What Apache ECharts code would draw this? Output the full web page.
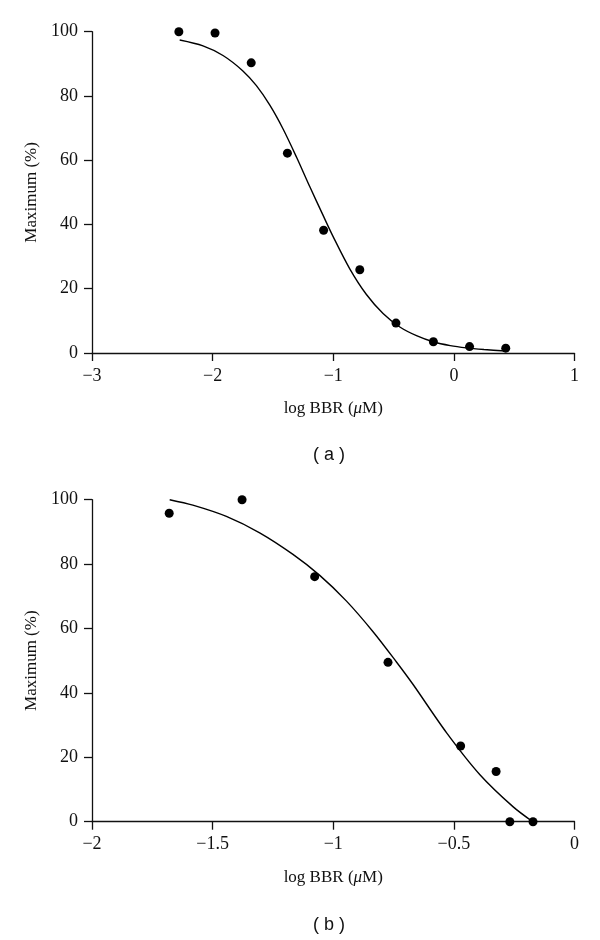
<!DOCTYPE html>
<html>
<head>
<meta charset="utf-8">
<script src="https://cdn.jsdelivr.net/npm/echarts@6/dist/echarts.min.js"></script>
<style>
html,body{margin:0;padding:0;background:#fff;}
#c{width:600px;height:940px;}
</style>
</head>
<body>
<div id="c"></div>
<script>
// Panel (a) data points
const aX = [-2.28, -1.98, -1.68, -1.38, -1.08, -0.78, -0.48, -0.17, 0.13, 0.43];
const aY = [100, 99.6, 90.3, 62.2, 38.2, 25.9, 9.3, 3.5, 2.0, 1.5];
// Panel (a) fitted curve
const aCurveX = [-2.273, -2.08, -1.914, -1.749, -1.637, -1.527, -1.417, -1.305, -1.195, -1.085, -1.002, -0.863, -0.725, -0.587, -0.448, -0.31, -0.172, -0.03, 0.105, 0.25, 0.43];
const aCurveY = [97.4, 95.6, 92.6, 87.8, 83.2, 77.2, 69.8, 61.0, 51.8, 42.9, 36.3, 26.2, 18.2, 12.3, 8.1, 5.4, 3.5, 2.3, 1.6, 1.1, 0.6];
// Panel (b) data points
const bX = [-1.68, -1.378, -1.077, -0.773, -0.472, -0.325, -0.268, -0.172];
const bY = [95.8, 100, 76.1, 49.5, 23.5, 15.6, 0, 0];
// Panel (b) fitted curve
const bCurveX = [-1.678, -1.582, -1.443, -1.305, -1.167, -1.056, -0.945, -0.835, -0.738, -0.669, -0.53, -0.392, -0.254, -0.173];
const bCurveY = [100, 98.3, 94.8, 89.7, 83.0, 76.5, 68.5, 59.0, 49.6, 42.6, 27.6, 14.6, 4.6, 0];
// Axis ticks
const aXTicks = {min: -3, max: 1, interval: 1};
const bXTicks = {min: -2, max: 0, interval: 0.5};
const yTicks = {min: 0, max: 100, interval: 20};
const panelLabels = ['( a )', '( b )'];
const yName = 'Maximum (%)';

const serif = 'Liberation Serif';
const black = '#111';
const minus = v => String(v).replace('-', '\u2212');

function xAxis(idx, t) {
  return {
    type: 'value', gridIndex: idx, min: t.min, max: t.max, interval: t.interval,
    name: 'log BBR ({i|\u03bc}M)', nameLocation: 'middle', nameGap: 47,
    nameTextStyle: {fontFamily: serif, fontSize: 17, color: black,
      rich: {i: {fontFamily: serif, fontStyle: 'italic', fontSize: 17, color: black}}},
    axisLine: {show: true, onZero: false, lineStyle: {color: black, width: 1.3}},
    axisTick: {show: true, inside: false, length: 8, lineStyle: {color: black, width: 1.3}},
    axisLabel: {fontFamily: serif, fontSize: 18, color: black, margin: 14, formatter: minus},
    splitLine: {show: false}
  };
}
function yAxis(idx) {
  return {
    type: 'value', gridIndex: idx, min: yTicks.min, max: yTicks.max, interval: yTicks.interval,
    name: yName, nameLocation: 'middle', nameGap: 50, nameRotate: 90,
    nameTextStyle: {fontFamily: serif, fontSize: 17, color: black},
    axisLine: {show: true, onZero: false, lineStyle: {color: black, width: 1.3}},
    axisTick: {show: true, inside: false, length: 8, lineStyle: {color: black, width: 1.3}},
    axisLabel: {fontFamily: serif, fontSize: 18, color: black, margin: 14},
    splitLine: {show: false}
  };
}
const zip = (xs, ys) => xs.map((x, i) => [x, ys[i]]);

const chart = echarts.init(document.getElementById('c'), null, {renderer: 'canvas'});
chart.setOption({
  animation: false,
  backgroundColor: '#fff',
  grid: [
    {left: 92, width: 482.5, top: 31.7, height: 321.3},
    {left: 92, width: 482.5, top: 499.7, height: 322}
  ],
  xAxis: [xAxis(0, aXTicks), xAxis(1, bXTicks)],
  yAxis: [yAxis(0), yAxis(1)],
  title: [
    {text: panelLabels[0], left: 324, top: 441, textAlign: 'center',
      textStyle: {fontFamily: 'Liberation Sans', fontSize: 18, fontWeight: 'normal', color: black}},
    {text: panelLabels[1], left: 324, top: 911, textAlign: 'center',
      textStyle: {fontFamily: 'Liberation Sans', fontSize: 18, fontWeight: 'normal', color: black}}
  ],
  series: [
    {type: 'line', xAxisIndex: 0, yAxisIndex: 0, data: zip(aCurveX, aCurveY), smooth: 0.3,
      showSymbol: false, lineStyle: {color: '#000', width: 1.4}},
    {type: 'scatter', xAxisIndex: 0, yAxisIndex: 0, data: zip(aX, aY), symbolSize: 9,
      itemStyle: {color: '#000', opacity: 1}},
    {type: 'line', xAxisIndex: 1, yAxisIndex: 1, data: zip(bCurveX, bCurveY), smooth: 0.3,
      showSymbol: false, lineStyle: {color: '#000', width: 1.4}},
    {type: 'scatter', xAxisIndex: 1, yAxisIndex: 1, data: zip(bX, bY), symbolSize: 9,
      itemStyle: {color: '#000', opacity: 1}}
  ]
});
</script>
</body>
</html>
